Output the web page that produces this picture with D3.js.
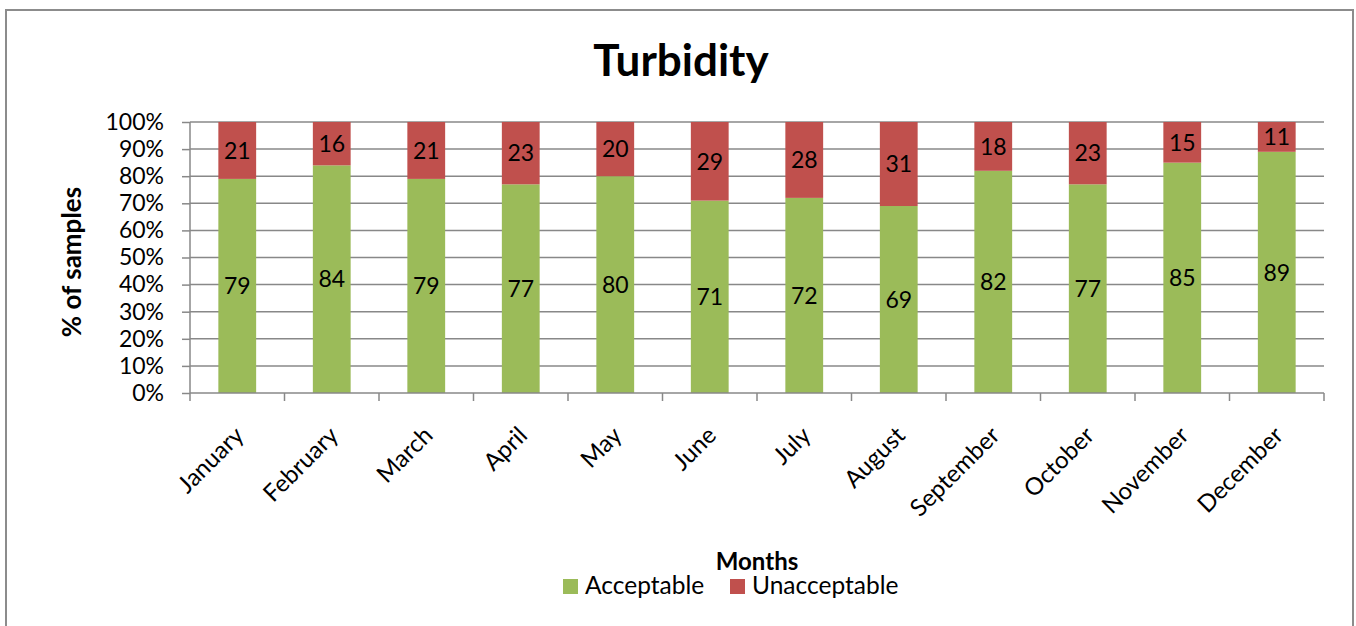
<!DOCTYPE html>
<html>
<head>
<meta charset="utf-8">
<script src="https://cdn.jsdelivr.net/npm/d3@7"></script>
<style>
  body { margin: 0; background: #fff; }
  text { font-family: Lato, "Noto Sans", sans-serif; }
</style>
</head>
<body>
<div id="chart"></div>
<script>
// data
const months = ["January", "February", "March", "April", "May", "June",
  "July", "August", "September", "October", "November", "December"];
const acceptable = [79, 84, 79, 77, 80, 71, 72, 69, 82, 77, 85, 89];
const unacceptable = [21, 16, 21, 23, 20, 29, 28, 31, 18, 23, 15, 11];
const seriesNames = ["Acceptable", "Unacceptable"];
const yTicks = [0, 10, 20, 30, 40, 50, 60, 70, 80, 90, 100];

const colors = {Acceptable: "#9BBB59", Unacceptable: "#C0504D"};

const width = 1356, height = 626;
const plot = {left: 190, right: 1324, top: 122, bottom: 393};

let svg = d3.select("#chart")
  .append("svg")
  .attr("width", width)
  .attr("height", height);

// outer chart frame
svg.append("rect")
  .attr("x", 6).attr("y", 10)
  .attr("width", 1347).attr("height", 630)
  .attr("fill", "#fff")
  .attr("stroke", "#8c8c8c")
  .attr("stroke-width", 2);

// build the table for stacking
var table = months.map(function(m, i) {
  return {month: m, Acceptable: acceptable[i], Unacceptable: unacceptable[i]};
});
var stacked = d3.stack().keys(seriesNames)
  .offset(d3.stackOffsetExpand)(table);

var xScale = d3.scaleBand()
  .domain(months)
  .range([plot.left, plot.right])
  .paddingInner(0.6)
  .paddingOuter(0.3);

var yScale = d3.scaleLinear()
  .domain([0, 1])
  .range([plot.bottom, plot.top]);

// gridlines
svg.append("g")
  .selectAll("line")
  .data(yTicks.slice(1))
  .join("line")
  .attr("x1", plot.left).attr("x2", plot.right)
  .attr("y1", d => yScale(d / 100)).attr("y2", d => yScale(d / 100))
  .attr("stroke", "#888")
  .attr("stroke-width", 1.5);

// bars
var groups = svg.append("g")
  .selectAll("g")
  .data(stacked)
  .join("g")
  .attr("fill", d => colors[d.key]);

groups.selectAll("rect")
  .data(d => d)
  .join("rect")
  .attr("x", d => xScale(d.data.month))
  .attr("width", xScale.bandwidth())
  .attr("y", d => yScale(d[1]))
  .attr("height", d => yScale(d[0]) - yScale(d[1]));

// data labels
groups.selectAll("text")
  .data(d => d.map(v => ({v: v, key: d.key})))
  .join("text")
  .attr("x", d => xScale(d.v.data.month) + xScale.bandwidth() / 2)
  .attr("y", d => (yScale(d.v[0]) + yScale(d.v[1])) / 2)
  .attr("dy", "0.36em")
  .attr("text-anchor", "middle")
  .attr("fill", "#000")
  .style("font-size", "23px")
  .text(d => d.v.data[d.key]);

// Y axis
var yAxis = svg.append("g")
  .attr("transform", "translate(" + plot.left + ",0)")
  .call(d3.axisLeft(yScale)
    .tickValues(yTicks.map(d => d / 100))
    .tickFormat(d3.format(".0%"))
    .tickSize(8));
yAxis.select(".domain").attr("stroke", "#888").attr("stroke-width", 1.5).attr("d", "M0," + plot.top + "V" + plot.bottom);
yAxis.selectAll(".tick line").attr("stroke", "#888").attr("stroke-width", 1.5);
yAxis.selectAll(".tick text")
  .style("font-size", "23px")
  .attr("fill", "#000")
  .attr("x", -26);

// X axis
var xAxis = svg.append("g")
  .attr("transform", "translate(0," + plot.bottom + ")")
  .call(d3.axisBottom(xScale).tickSize(0).tickPadding(0));
xAxis.select(".domain").attr("stroke", "#888").attr("stroke-width", 1.5).attr("d", "M" + plot.left + ",0H" + plot.right);

// tick marks between categories
svg.append("g")
  .selectAll("line")
  .data(d3.range(months.length + 1))
  .join("line")
  .attr("x1", i => plot.left + i * xScale.step())
  .attr("x2", i => plot.left + i * xScale.step())
  .attr("y1", plot.bottom).attr("y2", plot.bottom + 8)
  .attr("stroke", "#888")
  .attr("stroke-width", 1.5);

xAxis.selectAll(".tick text")
  .style("font-size", "24px")
  .attr("fill", "#000")
  .attr("text-anchor", "end")
  .attr("dy", "0.7em")
  .attr("transform", "translate(-4,32) rotate(-45)");

// title
svg.append("text")
  .attr("x", 681).attr("y", 76)
  .attr("text-anchor", "middle")
  .style("font-size", "44px")
  .style("font-weight", "bold")
  .text("Turbidity");

// axis titles
svg.append("text")
  .attr("transform", "translate(81,262) rotate(-90)")
  .attr("text-anchor", "middle")
  .style("font-size", "26px")
  .style("font-weight", "bold")
  .text("% of samples");

svg.append("text")
  .attr("x", 757).attr("y", 570)
  .attr("text-anchor", "middle")
  .style("font-size", "24px")
  .style("font-weight", "bold")
  .text("Months");

// legend
var legend = svg.append("g");
var legendX = [563, 730];
seriesNames.forEach(function(name, i) {
  legend.append("rect")
    .attr("x", legendX[i]).attr("y", 579)
    .attr("width", 15).attr("height", 15)
    .attr("fill", colors[name]);
  legend.append("text")
    .attr("x", legendX[i] + 22).attr("y", 594)
    .style("font-size", "24.5px")
    .text(name);
});
</script>
</body>
</html>
